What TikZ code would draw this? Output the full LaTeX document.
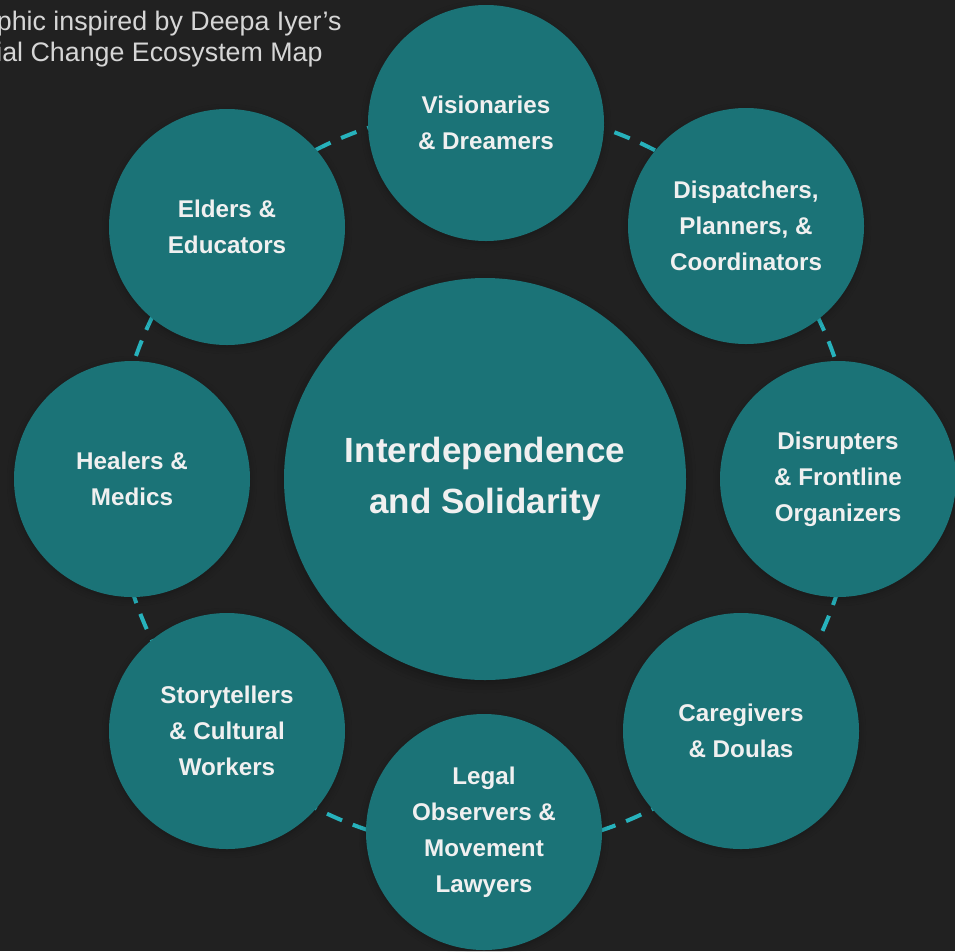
\documentclass[tikz,border=0pt]{standalone}
\usepackage{fontspec}
\setmainfont{Liberation Sans}
\usetikzlibrary{shadows.blur}

\definecolor{bg}{HTML}{212121}
\definecolor{teal}{HTML}{1B7377}
\definecolor{ringcol}{HTML}{27B2BC}
\definecolor{ink}{HTML}{F0F0F0}
\definecolor{caption}{HTML}{D6D6D6}

\tikzset{
  x=1pt, y=-1pt,
  bubble/.style={circle, fill=teal, inner sep=0pt, minimum size=236pt,
    text=ink, align=center,
    font=\fontsize{24.2}{36}\selectfont\bfseries,
    blur shadow={shadow xshift=0pt, shadow yshift=-2pt,
      shadow blur radius=7pt, shadow opacity=25}},
  hubbubble/.style={circle, fill=teal, inner sep=0pt, minimum size=402pt,
    text=ink, align=center,
    font=\fontsize{35}{51}\selectfont\bfseries,
    blur shadow={shadow xshift=0pt, shadow yshift=-3pt,
      shadow blur radius=10pt, shadow opacity=35}},
  ring/.style={draw=ringcol, line width=4pt, dash pattern=on 16.5pt off 11.5pt},
  captiontext/.style={anchor=base west, inner sep=0pt, text=caption,
    font=\fontsize{26.8}{31}\selectfont}
}

\begin{document}
\begin{tikzpicture}
  % page
  \clip (0,0) rectangle (955,951);
  \fill[bg] (0,0) rectangle (955,951);

  % heading, running off the left edge
  \node[captiontext] (cap1) at (-48,30) {Graphic inspired by Deepa Iyer’s};
  \node[captiontext] (cap2) at (-50,61) {Social Change Ecosystem Map};

  % dashed ring linking the roles
  \coordinate (hub) at (485,479);
  \draw[ring] (hub) circle[radius=370];

  % the eight roles
  \node[bubble] (vis) at (486,123) {Visionaries\\\& Dreamers};
  \node[bubble] (dis) at (746,226) {Dispatchers,\\Planners, \&\\Coordinators};
  \node[bubble] (dsr) at (838,479) {Disrupters\\\& Frontline\\Organizers};
  \node[bubble] (car) at (741,731) {Caregivers\\\& Doulas};
  \node[bubble] (leg) at (484,832) {Legal\\Observers \&\\Movement\\Lawyers};
  \node[bubble] (sto) at (227,731) {Storytellers\\\& Cultural\\Workers};
  \node[bubble] (hea) at (132,479) {Healers \&\\Medics};
  \node[bubble] (eld) at (227,227) {Elders \&\\Educators};

  % centre
  \node[hubbubble] (core) at (hub) {Interdependence\\and Solidarity};
\end{tikzpicture}
\end{document}
